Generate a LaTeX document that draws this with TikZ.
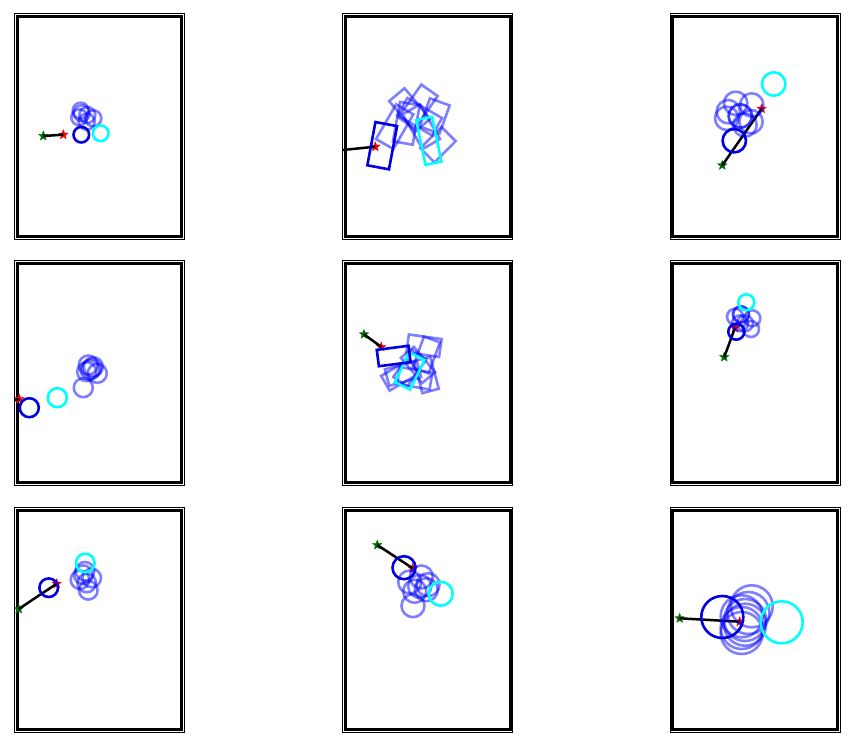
\documentclass[tikz,border=0pt]{standalone}
\usetikzlibrary{shapes.geometric}
\definecolor{aqua}{RGB}{0,255,255}
\definecolor{pureblue}{RGB}{0,0,255}
\definecolor{darkblue}{RGB}{0,0,225}
\definecolor{stargreen}{RGB}{0,110,0}
\definecolor{starred}{RGB}{255,0,0}
\tikzset{
  thinframe/.style={line width=1pt,black},
  thickframe/.style={line width=3pt,black},
  particle/.style={draw=pureblue,draw opacity=0.5,line width=2.6pt},
  truth/.style={draw=darkblue,line width=2.6pt},
  pred/.style={draw=aqua,line width=2.6pt},
  track/.style={line width=2.5pt,black},
  gstar/.style={star,star points=5,star point ratio=2.3,fill=stargreen,draw=stargreen,inner sep=0pt,minimum size=10pt,line width=0.3pt},
  rstar/.style={star,star points=5,star point ratio=2.3,fill=starred,draw=starred,inner sep=0pt,minimum size=10pt,line width=0.3pt}
}
\newcommand\pframe[2]{\draw[thinframe] (#1,#2) rectangle ++(170,225);
  \draw[thickframe] (#1+2.6,#2+2.6) rectangle ++(164.8,219.8);}
\newcommand\rbox[6]{\draw[#1,shift={(#2,#3)},rotate=#6] (-#4/2,-#5/2) rectangle (#4/2,#5/2);}
\newcommand\ring[4]{\draw[#1] (#2,#3) circle[radius=#4pt];}
\begin{document}
\begin{tikzpicture}[x=1pt,y=-1pt]
\useasboundingbox[fill=white] (0,0) rectangle (853,746);
% frames
\pframe{14.5}{14}\pframe{342.7}{14}\pframe{670.3}{14}
\pframe{14.5}{260.5}\pframe{342.7}{260.5}\pframe{670.3}{260.5}
\pframe{14.5}{507.5}\pframe{342.7}{507.5}\pframe{670.3}{507.5}
% panel 1
\begin{scope}
\clip (14.5,14) rectangle ++(170,225);
\node[gstar] (g1) at (43.3,136) {};
\node[rstar] (r1) at (63.3,134.7) {};
\draw[track] (g1.center) -- (r1.center);
\ring{particle}{80.7}{110.7}{8}
\ring{particle}{79.3}{117.3}{8}
\ring{particle}{87.3}{115}{8}
\ring{particle}{93.3}{118.3}{8}
\ring{particle}{86.7}{121.7}{8}
\ring{particle}{81.7}{113.3}{8}
\ring{pred}{100.7}{133.3}{7.8}
\ring{truth}{81.3}{134.7}{7.8}
\end{scope}
% panel 2
\begin{scope}
\clip (342.7,14) rectangle ++(170,225);
\coordinate (g2) at (330,151.3);
\node[rstar] (r2) at (375.3,146.7) {};
\draw[track] (g2) -- (r2.center);
\rbox{particle}{394.7}{126.7}{20}{40}{-30}
\rbox{particle}{409.7}{110}{20}{40}{40}
\rbox{particle}{418}{106.7}{20}{40}{-35}
\rbox{particle}{434.7}{116}{21}{30}{-20}
\rbox{particle}{438}{144.7}{20}{30}{-45}
\rbox{particle}{421.3}{126.7}{20}{40}{30}
\rbox{particle}{406.3}{123.3}{20}{40}{-10}
\rbox{particle}{419.7}{116.7}{20}{40}{60}
\rbox{pred}{428.8}{140.8}{16.3}{45.7}{11.8}
\rbox{truth}{382.2}{145.7}{22}{44}{-10.6}
\end{scope}
% panel 3
\begin{scope}
\clip (670.3,14) rectangle ++(170,225);
\node[gstar] (g3) at (722.3,165.3) {};
\node[rstar] (r3) at (761.7,108.7) {};
\draw[track] (g3.center) -- (r3.center);
\ring{particle}{735.7}{103.3}{11.7}
\ring{particle}{751.7}{105}{11.7}
\ring{particle}{728.3}{111.7}{11.7}
\ring{particle}{726.7}{118.3}{11.7}
\ring{particle}{751}{121.7}{11.7}
\ring{particle}{745}{125}{11.7}
\ring{particle}{740.3}{116}{11.7}
\ring{particle}{740.3}{116}{11.7}
\ring{pred}{773.7}{84}{11.7}
\ring{truth}{734.3}{140.7}{11.7}
\end{scope}
% panel 4
\begin{scope}
\clip (14.5,260.5) rectangle ++(170,225);
\coordinate (g4) at (5,402.5);
\node[rstar] (r4) at (19.3,399) {};
\draw[track] (g4) -- (r4.center);
\ring{particle}{83.3}{387.7}{9.5}
\ring{particle}{88.3}{365}{9.5}
\ring{particle}{90}{370}{9.5}
\ring{particle}{91.7}{368.3}{9.5}
\ring{particle}{97.3}{373.3}{9.5}
\ring{particle}{86.7}{371.7}{9.5}
\ring{particle}{93.3}{366.7}{9.5}
\ring{pred}{57.3}{397.7}{9.5}
\ring{truth}{29.3}{407.7}{9.5}
\end{scope}
% panel 5
\begin{scope}
\clip (342.7,260.5) rectangle ++(170,225);
\node[gstar] (g5) at (364,334.3) {};
\node[rstar] (r5) at (381.3,347) {};
\draw[track] (g5.center) -- (r5.center);
\rbox{particle}{424}{345.7}{33}{18}{-8}
\rbox{particle}{426.3}{355}{17}{33}{-20}
\rbox{particle}{426.3}{375}{17}{33}{15}
\rbox{particle}{403}{373.3}{33}{17}{15}
\rbox{particle}{409.7}{368.3}{17}{33}{-35}
\rbox{particle}{418}{365}{17}{33}{40}
\rbox{particle}{414.7}{378.3}{33}{17}{-10}
\rbox{particle}{399.7}{375}{17}{33}{-60}
\rbox{pred}{409.7}{371}{17}{33}{-26}
\rbox{truth}{393.7}{356}{32}{16.5}{7.3}
\end{scope}
% panel 6
\begin{scope}
\clip (670.3,260.5) rectangle ++(170,225);
\node[gstar] (g6) at (724.3,357) {};
\node[rstar] (r6) at (735,327.7) {};
\draw[track] (g6.center) -- (r6.center);
\ring{particle}{741}{314.3}{8}
\ring{particle}{741}{314.3}{8}
\ring{particle}{735}{316.7}{8}
\ring{particle}{752.3}{318.3}{8}
\ring{particle}{751}{329}{8}
\ring{particle}{745}{323.3}{8}
\ring{particle}{740}{323.3}{8}
\ring{pred}{746.3}{302.3}{8}
\ring{truth}{736.3}{331.7}{8}
\end{scope}
% panel 7
\begin{scope}
\clip (14.5,507.5) rectangle ++(170,225);
\node[gstar] (g7) at (18.7,609) {};
\node[rstar] (r7) at (56.7,583.7) {};
\draw[track] (g7.center) -- (r7.center);
\ring{particle}{85}{571.3}{9.3}
\ring{particle}{80}{579.7}{9.3}
\ring{particle}{91.7}{578}{9.3}
\ring{particle}{86.7}{583}{9.3}
\ring{particle}{88.3}{590.3}{9.3}
\ring{particle}{83.3}{574.7}{9.3}
\ring{pred}{85.3}{563}{9.3}
\ring{truth}{48.7}{587.7}{9.3}
\end{scope}
% panel 8
\begin{scope}
\clip (342.7,507.5) rectangle ++(170,225);
\node[gstar] (g8) at (377.3,545) {};
\node[rstar] (r8) at (412.7,568.3) {};
\draw[track] (g8.center) -- (r8.center);
\ring{particle}{409.7}{582}{11.5}
\ring{particle}{421.3}{577}{11.5}
\ring{particle}{419.7}{586.3}{11.5}
\ring{particle}{426.3}{589.7}{11.5}
\ring{particle}{414.7}{591.3}{11.5}
\ring{particle}{413}{605.7}{11.5}
\ring{particle}{428}{584.7}{11.5}
\ring{pred}{440.7}{593.7}{12}
\ring{truth}{404}{567.7}{11.5}
\end{scope}
% panel 9
\begin{scope}
\clip (670.3,507.5) rectangle ++(170,225);
\node[gstar] (g9) at (679.7,618.3) {};
\node[rstar] (r9) at (739.7,621.7) {};
\draw[track] (g9.center) -- (r9.center);
\ring{particle}{751.7}{606.3}{21}
\ring{particle}{741.7}{616.3}{21}
\ring{particle}{745}{624.7}{21}
\ring{particle}{741.7}{633}{21}
\ring{particle}{741.7}{628}{21}
\ring{particle}{748.3}{613}{21}
\ring{particle}{745}{620}{21}
\ring{pred}{781.7}{622.3}{21}
\ring{truth}{722.3}{617}{21}
\end{scope}
\end{tikzpicture}
\end{document}
